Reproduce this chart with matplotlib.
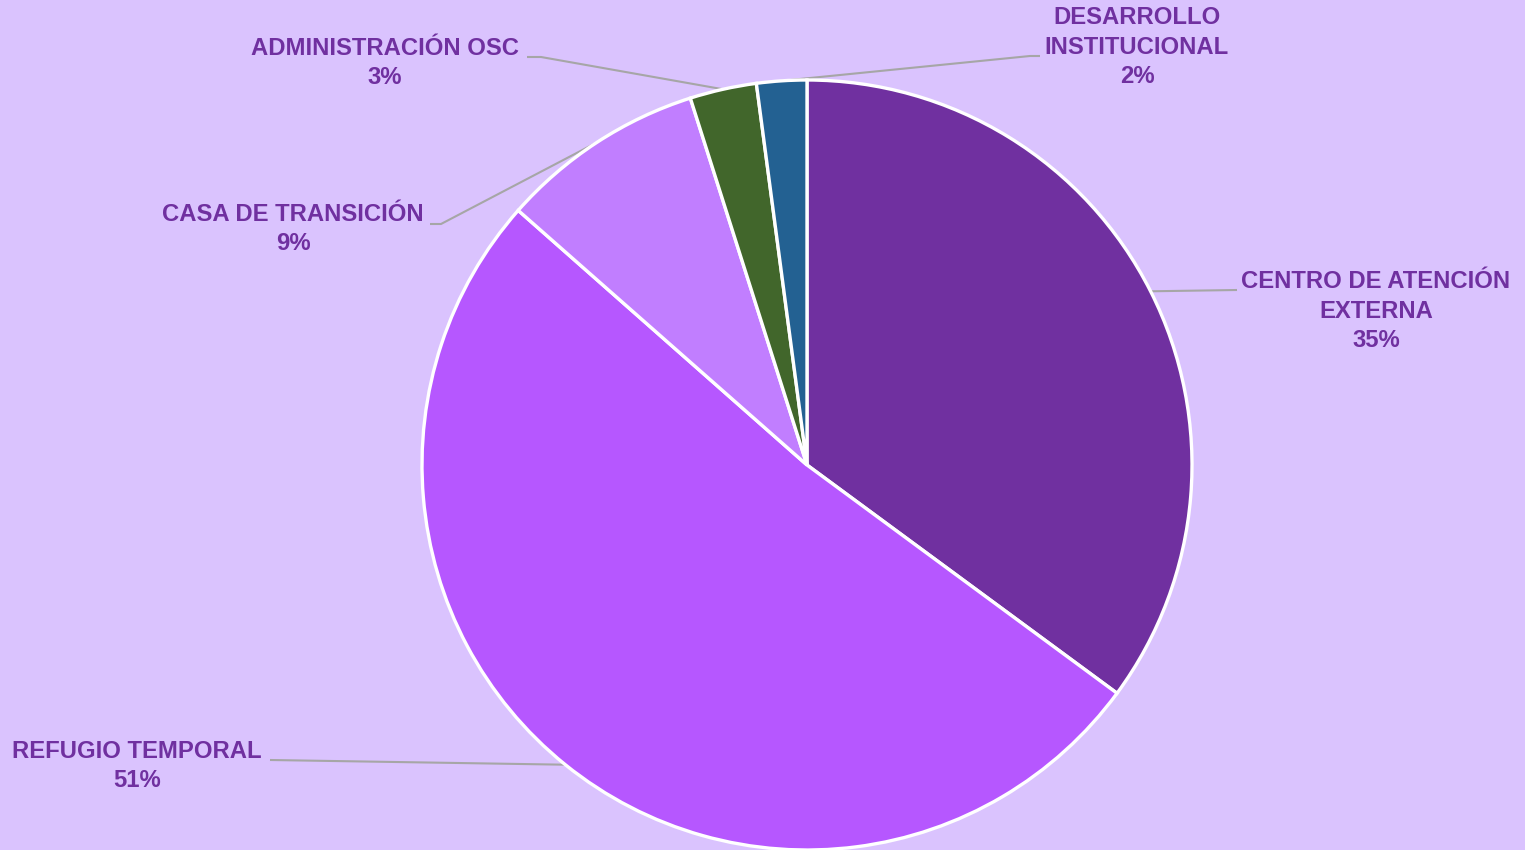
import numpy as np
import matplotlib
matplotlib.use('agg')
import matplotlib.pyplot as plt

labels = ["CENTRO DE ATENCIÓN\nEXTERNA", "REFUGIO TEMPORAL", "CASA DE TRANSICIÓN",
          "ADMINISTRACIÓN OSC", "DESARROLLO\nINSTITUCIONAL"]
values = [35.1, 51.4, 8.6, 2.8, 2.1]
pct_text = ["35%", "51%", "9%", "3%", "2%"]
colors = ["#7030A0", "#B657FF", "#C17EFF", "#41662B", "#236192"]

BG = "#DAC3FE"
TXT = "#7030A0"
W, H = 1525, 850

# label text centre (pixels from top-left) and start of leader line
label_pos = [(1376, 311), (137, 766), (293, 229), (385, 63), (1137, 47)]
leader_start = [[(1237, 290)], [(270, 760)], [(430, 224), (441, 224)],
                [(527, 57), (541, 57)], [(1040, 56), (1030, 56)]]

fig = plt.figure(figsize=(W / 100, H / 100), dpi=100, facecolor=BG)
ax = fig.add_axes([0, 0, 1, 1])
ax.set_facecolor(BG)

cx, cy, r = 807, H - 465, 385
wedges, _ = ax.pie(values, colors=colors, startangle=90, counterclock=False,
                   center=(cx, cy), radius=r, frame=True,
                   wedgeprops={"linewidth": 2.4, "edgecolor": "white"})
ax.set_xlim(0, W)
ax.set_ylim(0, H)
ax.axis("off")

for w, lab, pct, (tx, ty), pts in zip(wedges, labels, pct_text, label_pos, leader_start):
    mid = np.deg2rad((w.theta1 + w.theta2) / 2)
    ex, ey = cx + r * np.cos(mid), cy + r * np.sin(mid)
    xs = [p[0] for p in pts] + [ex]
    ys = [H - p[1] for p in pts] + [ey]
    ax.plot(xs, ys, color="#A6A6A6", lw=1.5, zorder=0.5, solid_capstyle="butt")
    ax.text(tx, H - ty, lab + "\n" + pct, ha="center", va="center", color=TXT,
            fontsize=17.2, fontweight="bold", family="Liberation Sans",
            linespacing=1.36)

fig.savefig("out.png", dpi=100, facecolor=BG)
plt.close(fig)
